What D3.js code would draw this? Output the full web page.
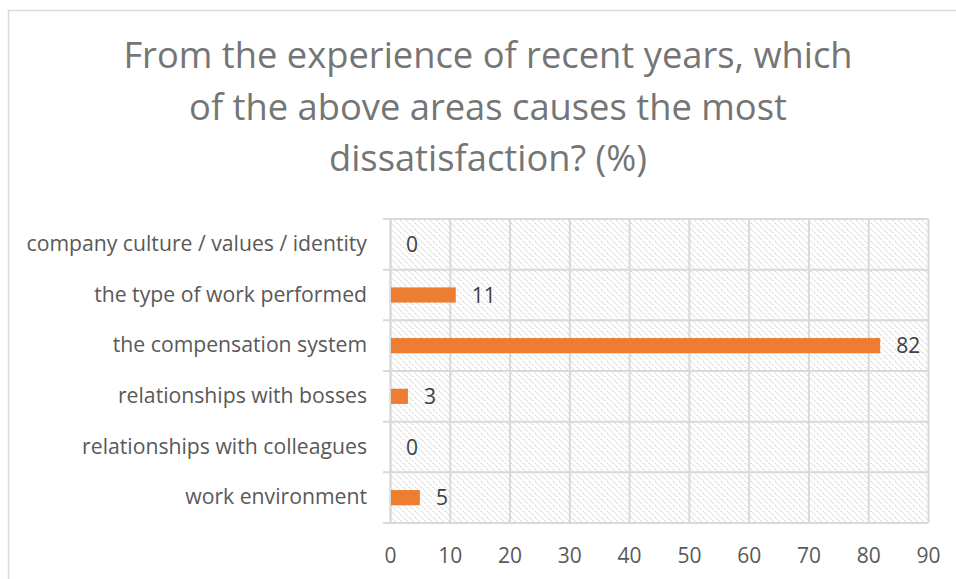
<!DOCTYPE html>
<html>
<head>
<meta charset="utf-8">
<script src="https://cdn.jsdelivr.net/npm/d3@7/dist/d3.min.js"></script>
<style>
  html, body { margin: 0; padding: 0; background: #fff; }
  svg { display: block; font-family: "Open Sans", Lato, sans-serif; }
</style>
</head>
<body>
<svg id="chart" width="956" height="579"></svg>
<script>
// Survey answers, top row first
const categories = [
  "company culture / values / identity",
  "the type of work performed",
  "the compensation system",
  "relationships with bosses",
  "relationships with colleagues",
  "work environment"
];
const percentages = [0, 11, 82, 3, 0, 5];
const xTicks = [0, 10, 20, 30, 40, 50, 60, 70, 80, 90];
const titleLines = [
  "From the experience of recent years, which",
  "of the above areas causes the most",
  "dissatisfaction? (%)"
];

const W = 956, H = 579;
const plot = { left: 390, right: 928, top: 219, bottom: 523 };
const gridColor = "#d9d9d9";
const textColor = "#595959";
const fontStack = "'Open Sans', Lato, sans-serif";

const svg = d3.select("#chart");

// hatched plot background
const defs = svg.append("defs");
const pat = defs.append("pattern")
  .attr("id", "hatch")
  .attr("patternUnits", "userSpaceOnUse")
  .attr("width", 6).attr("height", 6);
pat.append("rect").attr("width", 6).attr("height", 6).attr("fill", "#fff");
pat.append("path")
  .attr("d", "M-1,-1 L7,7 M-1,5 L1,7 M5,-1 L7,1")
  .attr("stroke", "#d2d2d2")
  .attr("stroke-width", 1.1)
  .attr("stroke-dasharray", "1.5,1");

// outer chart frame
svg.append("rect")
  .attr("x", 8.5).attr("y", 10.5)
  .attr("width", W + 20).attr("height", H + 20)
  .attr("fill", "#fff")
  .attr("stroke", gridColor)
  .attr("stroke-width", 1.5);

const x = d3.scaleLinear().domain([0, 90]).range([plot.left, plot.right]);
const y = d3.scaleBand().domain(categories).range([plot.top, plot.bottom]).paddingInner(0.7).paddingOuter(0.35);
const rows = d3.scaleBand().domain(categories).range([plot.top, plot.bottom]);

svg.append("rect")
  .attr("x", plot.left).attr("y", plot.top)
  .attr("width", plot.right - plot.left).attr("height", plot.bottom - plot.top)
  .attr("fill", "url(#hatch)");

// vertical gridlines
svg.append("g")
  .attr("transform", `translate(0,${plot.bottom})`)
  .call(d3.axisBottom(x).tickValues(xTicks).tickSize(-(plot.bottom - plot.top)).tickFormat(""))
  .call(g => g.select(".domain").remove())
  .call(g => g.selectAll("line").attr("stroke", gridColor).attr("stroke-width", 2));

// horizontal row separators with short ticks to the left
const sepValues = [plot.top].concat(categories.map(c => rows(c) + rows.bandwidth()));
svg.append("g").selectAll("line")
  .data(sepValues)
  .join("line")
  .attr("x1", plot.left - 7).attr("x2", plot.right)
  .attr("y1", d => d).attr("y2", d => d)
  .attr("stroke", gridColor).attr("stroke-width", 2);

// category axis
svg.append("g")
  .attr("transform", `translate(${plot.left},0)`)
  .call(d3.axisLeft(rows).tickSize(0).tickPadding(23))
  .call(g => g.select(".domain").attr("stroke", gridColor).attr("stroke-width", 2))
  .call(g => g.selectAll("text")
    .attr("fill", textColor)
    .style("font-family", fontStack)
    .attr("font-size", 21.2));

// value axis labels
svg.append("g")
  .attr("transform", `translate(0,${plot.bottom})`)
  .call(d3.axisBottom(x).tickValues(xTicks).tickSize(0).tickPadding(25))
  .call(g => g.select(".domain").remove())
  .call(g => g.selectAll("text")
    .attr("fill", textColor)
    .style("font-family", fontStack)
    .attr("font-size", 21));

// bars
const data = categories.map((c, i) => ({ c, v: percentages[i] }));
svg.append("g").selectAll("rect")
  .data(data)
  .join("rect")
  .attr("x", x(0) + 1)
  .attr("y", d => y(d.c))
  .attr("width", d => Math.max(0, x(d.v) - x(0) - 1))
  .attr("height", y.bandwidth())
  .attr("fill", "#ED7D31");

// value labels
svg.append("g").selectAll("text")
  .data(data)
  .join("text")
  .attr("x", d => x(d.v) + 16)
  .attr("y", d => rows(d.c) + rows.bandwidth() / 2)
  .attr("dy", "0.36em")
  .attr("fill", "#404040")
  .attr("font-size", 21)
  .text(d => d.v);

// title
svg.append("g").selectAll("text")
  .data(titleLines)
  .join("text")
  .attr("x", 488)
  .attr("y", (d, i) => 68 + i * 51.5)
  .attr("text-anchor", "middle")
  .attr("fill", "#757575")
  .attr("font-size", 36.3)
  .text(d => d);
</script>
</body>
</html>
